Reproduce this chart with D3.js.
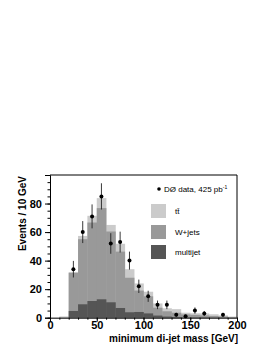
<!DOCTYPE html>
<html><head><meta charset="utf-8">
<script src="https://cdn.jsdelivr.net/npm/d3@7"></script>
<style>html,body{margin:0;padding:0;background:#fff;}svg{display:block;}</style>
</head><body>
<svg id="c" width="270" height="349"></svg>
<script>
// Bin lower edges (GeV), 10 GeV wide
const binLow = [0,10,20,30,40,50,60,70,80,90,100,110,120,130,140,150,160,170,180,190];
// Stack components (events / 10 GeV)
const multijet = [0,0,4.7,9.4,11.7,12.9,10.8,6.8,3.8,4.0,3.0,1.5,0.8,0.5,0.3,0.3,0.3,0.2,0.2,0.1];
const wjets    = [0,0.3,26.8,45.6,55.0,63.9,49.6,39.5,24.2,15.0,12.0,5.5,3.7,3.0,2.0,1.7,1.3,1.0,0.6,0.3];
const ttbar    = [0.2,0.6,0.3,2.3,4.7,7.0,4.6,5.5,6.0,5.0,3.2,3.0,2.1,2.5,1.2,1.1,1.4,1.2,0.8,0.4];
// Data points
const dataMass = [25,35,45,55,65,75,85,95,105,115,125,135,145,155,165,185];
const dataVal  = [34,60,71,85,52,53,40,22,15,9,9,2,1,5,3,2];
const dataErr  = [5.8,7.7,8.4,9.2,7.2,7.3,6.3,4.7,3.9,3.0,3.0,1.4,1.0,2.2,1.7,1.4];
// Axis ticks
const xTicks = [0,50,100,150,200];
const yTicks = [0,20,40,60,80];
const legendLabels = ["D\u00D8 data, 425 pb", "tt\u0304", "W+jets", "multijet"];
const colors = {ttbar:"#cbcbcb", wjets:"#999999", multijet:"#555555"};

const svg = d3.select("#c");
const L=50, R=237, T=175, B=317.7;
const x = d3.scaleLinear().domain([0,200]).range([L,R]);
const y = d3.scaleLinear().domain([0,100]).range([B,T]);

const rows = binLow.map((lo,i)=>({lo, mj:multijet[i], wj:wjets[i], tt:ttbar[i]}));
const stack = d3.stack().keys(["mj","wj","tt"])(rows);
const fills = [colors.multijet, colors.wjets, colors.ttbar];

const g = svg.append("g");
[2,1,0].forEach(k=>{
  g.selectAll(null).data(stack[k]).enter().append("rect")
    .attr("x", d=>x(d.data.lo))
    .attr("width", d=>x(d.data.lo+10)-x(d.data.lo)+0.3)
    .attr("y", d=>y(d[1]))
    .attr("height", d=>Math.max(0,y(0)-y(d[1])))
    .attr("fill", fills[k]);
});

// frame
svg.append("path").attr("d",`M${L},${T}H${R}V${B}`).attr("fill","none").attr("stroke","#000").attr("stroke-width",1);

// axes
const fontB = "'Liberation Sans', Arial, Helvetica, sans-serif";
const xAxis = d3.axisBottom(x).tickValues(xTicks).tickSize(4).tickPadding(0).tickFormat(d3.format("d"));
const xMinor = d3.axisBottom(x).tickValues(d3.range(0,201,10)).tickSize(2).tickFormat("");
const yAxis = d3.axisLeft(y).tickValues(yTicks).tickSize(5).tickPadding(3).tickFormat(d3.format("d"));
const yMinor = d3.axisLeft(y).tickValues(d3.range(0,101,5)).tickSize(2.5).tickFormat("");

function styleAxis(sel){
  sel.select(".domain").attr("stroke","#000");
  sel.selectAll(".tick line").attr("stroke","#000");
  sel.selectAll("text").attr("font-family",fontB).attr("font-weight","bold").attr("font-size","11px").attr("fill","#000");
}
svg.append("g").attr("transform",`translate(0,${B})`).call(xMinor).call(styleAxis).select(".domain").remove();
svg.append("g").attr("transform",`translate(0,${B})`).call(xAxis).call(styleAxis);
svg.append("g").attr("transform",`translate(${L},0)`).call(yMinor).call(styleAxis).select(".domain").remove();
svg.append("g").attr("transform",`translate(${L},0)`).call(yAxis).call(styleAxis);

// data error bars and points
const pts = dataMass.map((m,i)=>({m, v:dataVal[i], e:dataErr[i]}));
svg.selectAll(null).data(pts).enter().append("line")
  .attr("x1",d=>x(d.m)).attr("x2",d=>x(d.m))
  .attr("y1",d=>y(d.v+d.e)).attr("y2",d=>y(Math.max(0,d.v-d.e)))
  .attr("stroke","#222").attr("stroke-width",0.9);
svg.selectAll(null).data(pts).enter().append("circle")
  .attr("cx",d=>x(d.m)).attr("cy",d=>y(d.v)).attr("r",2).attr("fill","#000");

// axis titles
svg.append("text").attr("x",R+1).attr("y",342).attr("text-anchor","end")
  .attr("font-family",fontB).attr("font-weight","bold").attr("font-size","10px").text("minimum di-jet mass [GeV]");
svg.append("text").attr("transform",`translate(26,${T+1}) rotate(-90)`).attr("text-anchor","end")
  .attr("font-family",fontB).attr("font-weight","bold").attr("font-size","10px").text("Events / 10 GeV");

// legend
const lg = svg.append("g").attr("font-family",fontB).attr("font-size","8px").attr("fill","#000");
lg.append("circle").attr("cx",159).attr("cy",189).attr("r",1.8).attr("fill","#000");
const t0 = lg.append("text").attr("x",164).attr("y",192).text(legendLabels[0]);
t0.append("tspan").attr("dy",-3).attr("font-size","5px").text("-1");
const boxes = [
  {c:colors.ttbar, y:204, label:legendLabels[1]},
  {c:colors.wjets, y:225, label:legendLabels[2]},
  {c:colors.multijet, y:245, label:legendLabels[3]}
];
boxes.forEach(b=>{
  lg.append("rect").attr("x",151).attr("y",b.y).attr("width",15).attr("height",14).attr("fill",b.c);
  lg.append("text").attr("x",175).attr("y",b.y+10).text(b.label);
});
</script>
</body></html>
